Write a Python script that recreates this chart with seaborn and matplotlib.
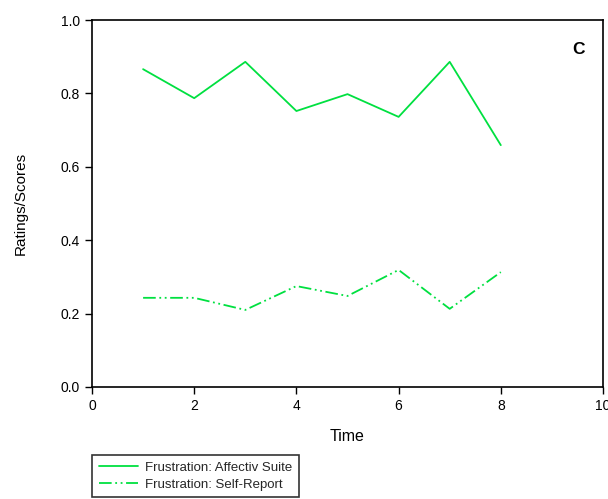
import seaborn as sns
import matplotlib.pyplot as plt
import pandas as pd
from matplotlib.lines import Line2D

sns.set_theme(style='white')
plt.rcParams['font.family'] = ['Liberation Sans', 'DejaVu Sans']

time = [1, 2, 3, 4, 5, 6, 7, 8]
affectiv = [0.866, 0.787, 0.886, 0.752, 0.798, 0.736, 0.886, 0.659]
self_report = [0.243, 0.243, 0.210, 0.275, 0.248, 0.319, 0.213, 0.313]
series_names = ['Frustration: Affectiv Suite', 'Frustration: Self-Report']

df = pd.DataFrame({
    'Time': time * 2,
    'Score': affectiv + self_report,
    'Series': [series_names[0]] * len(time) + [series_names[1]] * len(time),
})

green = '#00e040'
fig = plt.figure(figsize=(6.08, 4.99), dpi=100)
ax = fig.add_axes([92 / 608, 1 - 387 / 499, 511 / 608, 367 / 499])

sns.lineplot(data=df, x='Time', y='Score', hue='Series', style='Series',
             palette=[green, green], dashes=[(None, None), (7, 2, 1, 2, 1, 2)],
             linewidth=1.3, ax=ax, legend=False)

ax.set_xlim(0, 10)
ax.set_ylim(0, 1.0)
ax.set_xticks([0, 2, 4, 6, 8, 10])
ax.set_yticks([0.0, 0.2, 0.4, 0.6, 0.8, 1.0])
ax.set_yticklabels(['0.0', '0.2', '0.4', '0.6', '0.8', '1.0'])
ax.tick_params(axis='both', direction='out', length=5, width=1, color='black',
               labelsize=10, labelcolor='black', bottom=True, left=True)
for s in ax.spines.values():
    s.set_color('black')
    s.set_linewidth(1.2)
ax.set_xlabel('Time', fontsize=11.5, color='black', labelpad=12)
ax.set_ylabel('Ratings/Scores', fontsize=11, color='black', labelpad=24)
ax.text(0.965, 0.92, 'C', transform=ax.transAxes, fontsize=12.5,
        fontweight='bold', ha='right', va='center', color='black')

# legend sits below the axes, cut off by the bottom edge like the original
handles = [Line2D([], [], color=green, lw=1.3),
           Line2D([], [], color=green, lw=1.3, dashes=(7, 2, 1, 2, 1, 2))]
leg = fig.legend(handles, series_names, loc='upper left',
                 bbox_to_anchor=(92 / 608, 1 - 455 / 499), fontsize=9.5,
                 frameon=True, fancybox=False, borderaxespad=0,
                 handlelength=3.0, handletextpad=0.5, labelspacing=0.35,
                 borderpad=0.5)
leg.get_frame().set_edgecolor('black')
leg.get_frame().set_linewidth(1.2)

fig.savefig('out.png', dpi=100)
